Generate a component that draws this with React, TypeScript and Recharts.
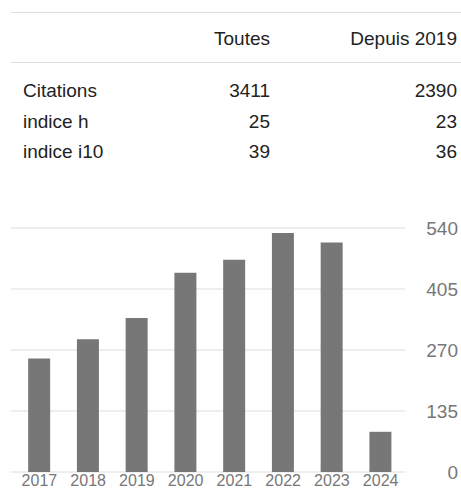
import React from 'react';
import { BarChart, Bar, XAxis, YAxis, CartesianGrid } from 'recharts';

const years = ['2017', '2018', '2019', '2020', '2021', '2022', '2023', '2024'];
const citations = [251, 294, 341, 441, 470, 529, 508, 89];
const yTicks = [0, 135, 270, 405, 540];

const columnLabels = ['Toutes', 'Depuis 2019'];
const rowLabels = ['Citations', 'indice h', 'indice i10'];
const allValues = [3411, 25, 39];
const sinceValues = [2390, 23, 36];

const FONT = '"Liberation Sans", Arial, sans-serif';
const TEXT = '#222222';
const MUTED = '#777777';

const data = years.map((year, i) => ({ year, value: citations[i] }));

const YearTick = (props: any) => {
  const { x, payload } = props;
  return (
    <text x={x} y={286} textAnchor="middle" fontSize={16} fill={MUTED} fontFamily={FONT}>
      {payload.value}
    </text>
  );
};

const ValueTick = (props: any) => {
  const { y, payload } = props;
  return (
    <text x={458} y={y + 7} textAnchor="end" fontSize={19} fill={MUTED} fontFamily={FONT}>
      {payload.value}
    </text>
  );
};

const StatsTable = () => {
  const rowBaselines = [97, 128, 158];
  return (
    <svg width={461} height={180} style={{ position: 'absolute', left: 0, top: 0 }}>
      <line x1={11} x2={461} y1={12.5} y2={12.5} stroke="#e0e0e0" />
      <line x1={11} x2={461} y1={62.5} y2={62.5} stroke="#e0e0e0" />
      <text x={270} y={45} textAnchor="end" fontSize={19} fill={TEXT} fontFamily={FONT}>
        {columnLabels[0]}
      </text>
      <text x={457} y={45} textAnchor="end" fontSize={19} fill={TEXT} fontFamily={FONT}>
        {columnLabels[1]}
      </text>
      {rowLabels.map((label, i) => (
        <g key={label}>
          <text x={23} y={rowBaselines[i]} fontSize={19} fill={TEXT} fontFamily={FONT}>
            {label}
          </text>
          <text x={270} y={rowBaselines[i]} textAnchor="end" fontSize={19} fill={TEXT} fontFamily={FONT}>
            {allValues[i]}
          </text>
          <text x={457} y={rowBaselines[i]} textAnchor="end" fontSize={19} fill={TEXT} fontFamily={FONT}>
            {sinceValues[i]}
          </text>
        </g>
      ))}
    </svg>
  );
};

export default function App() {
  return (
    <div
      style={{
        position: 'absolute',
        left: 0,
        top: 0,
        width: 461,
        height: 490,
        background: '#ffffff',
        overflow: 'hidden',
        fontFamily: FONT,
      }}
    >
      <StatsTable />
      <div style={{ position: 'absolute', left: 0, top: 200 }}>
        <BarChart
          width={461}
          height={290}
          data={data}
          margin={{ top: 28, right: 0, bottom: 0, left: 11 }}
          barCategoryGap="27%"
        >
          <CartesianGrid horizontal vertical={false} stroke="#eeeeee" strokeWidth={2} />
          <XAxis
            dataKey="year"
            height={18}
            axisLine={false}
            tickLine={false}
            interval={0}
            padding={{ left: 4, right: 0 }}
            tick={<YearTick />}
          />
          <YAxis
            orientation="right"
            width={56}
            domain={[0, 540]}
            ticks={yTicks}
            axisLine={false}
            tickLine={false}
            tick={<ValueTick />}
          />
          <Bar dataKey="value" fill="#777777" isAnimationActive={false} />
        </BarChart>
      </div>
    </div>
  );
}
